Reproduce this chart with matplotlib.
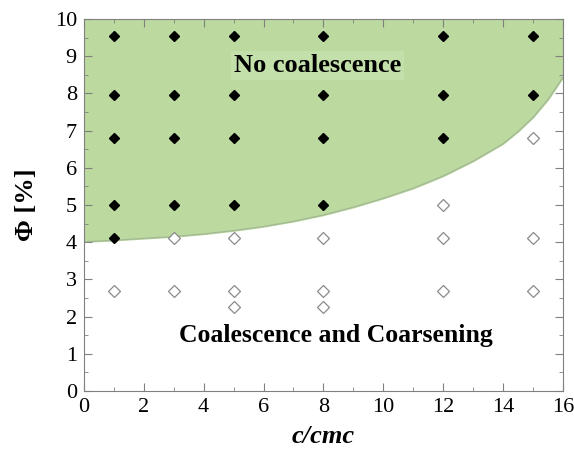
import matplotlib
matplotlib.use('Agg')
import matplotlib.pyplot as plt
from matplotlib.ticker import MultipleLocator

plt.rcParams['font.family'] = 'Liberation Serif'

# stable (no coalescence) experiments
stable_x = [1, 1, 1, 1, 1, 3, 3, 3, 3, 5, 5, 5, 5, 8, 8, 8, 8, 12, 12, 12, 15, 15]
stable_y = [9.55, 7.95, 6.8, 5.0, 4.1, 9.55, 7.95, 6.8, 5.0, 9.55, 7.95, 6.8, 5.0,
            9.55, 7.95, 6.8, 5.0, 9.55, 7.95, 6.8, 9.55, 7.95]
# unstable (coalescence) experiments
unstable_x = [1, 3, 3, 5, 5, 5, 8, 8, 8, 12, 12, 12, 15, 15, 15]
unstable_y = [2.7, 4.1, 2.7, 4.1, 2.7, 2.25, 4.1, 2.7, 2.25, 5.0, 4.1, 2.7, 6.8, 4.1, 2.7]

# boundary of the stable region
bound_x = [0, 1, 2, 3, 4, 5, 6, 7, 8, 9, 10, 11, 12, 13, 14, 14.5, 15, 15.5, 16]
bound_y = [4.01, 4.05, 4.1, 4.15, 4.22, 4.31, 4.42, 4.56, 4.73, 4.94, 5.18, 5.45,
           5.78, 6.18, 6.65, 6.98, 7.36, 7.84, 8.44]

fig = plt.figure(figsize=(5.74, 4.54), dpi=100)
ax = fig.add_axes([0.146, 0.139, 0.835, 0.819])

ax.fill_between(bound_x, bound_y, 10, color='#bcd9a0', zorder=1)
ax.plot(bound_x, bound_y, color='#a3b894', lw=0.9, zorder=2)

ax.plot(stable_x, stable_y, 'D', color='black', ms=5, zorder=3, linestyle='none')
ax.plot(unstable_x, unstable_y, 'D', mfc='white', mec='#8a8a8a', mew=0.9, ms=6,
        zorder=3, linestyle='none')

ax.text(7.8, 8.75, 'No coalescence', fontsize=19, fontweight='bold', ha='center',
        va='center', zorder=4,
        bbox=dict(facecolor='#c4e0aa', edgecolor='none', pad=2))
ax.text(8.4, 1.5, 'Coalescence and Coarsening', fontsize=18.5, fontweight='bold',
        ha='center', va='center', zorder=4)

ax.set_xlim(0, 16)
ax.set_ylim(0, 10)
ax.xaxis.set_major_locator(MultipleLocator(2))
ax.xaxis.set_minor_locator(MultipleLocator(1))
ax.yaxis.set_major_locator(MultipleLocator(1))
ax.yaxis.set_minor_locator(MultipleLocator(0.5))
ax.tick_params(which='both', direction='in', top=True, right=True, color='#808080',
               labelsize=16, pad=5)
ax.tick_params(which='major', length=6)
ax.tick_params(which='minor', length=3)
for s in ax.spines.values():
    s.set_color('#808080')

ax.set_xlabel('c/cmc', fontsize=19, fontweight='bold', style='italic', labelpad=6)
ax.set_ylabel('Φ [%]', fontsize=19, fontweight='bold', labelpad=12)

fig.savefig('out.png', dpi=100)
